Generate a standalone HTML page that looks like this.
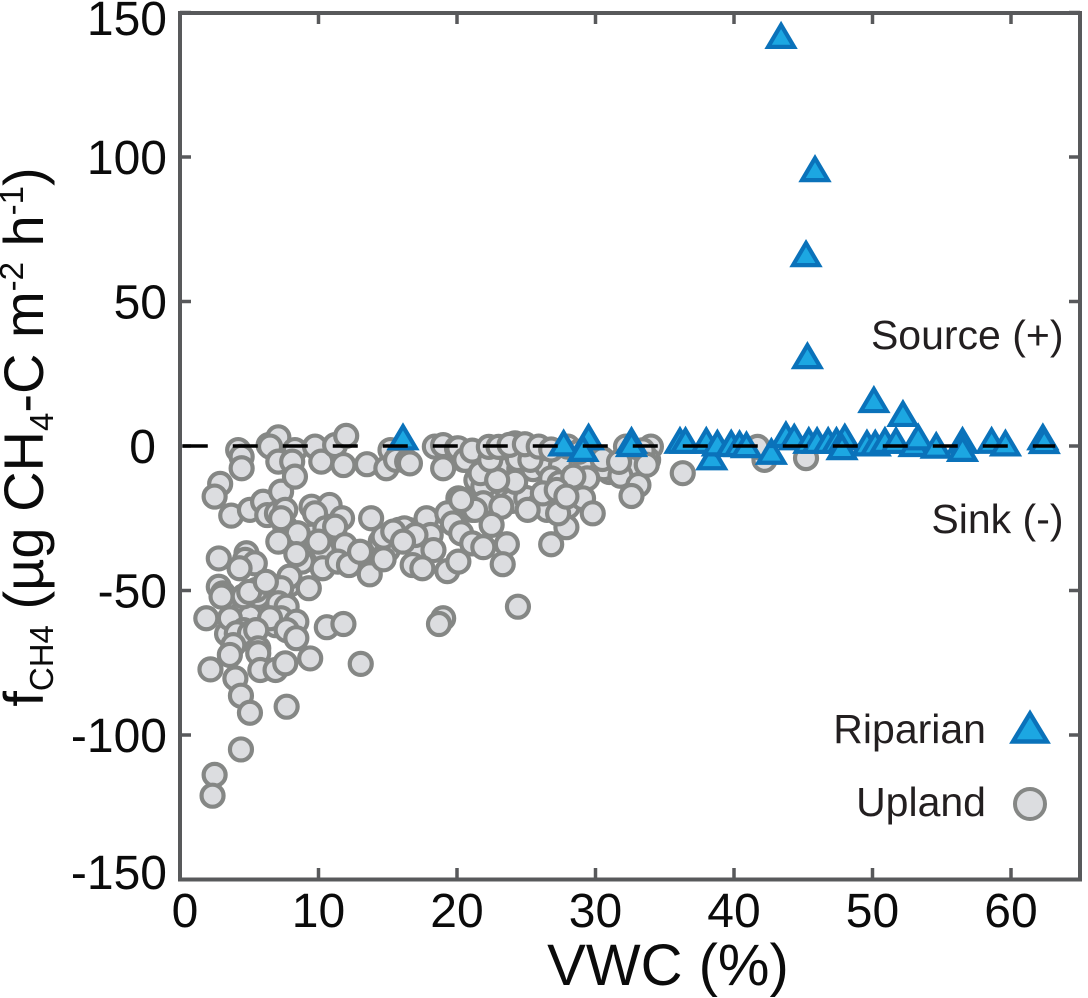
<!DOCTYPE html>
<html lang="en">
<head>
<meta charset="utf-8">
<title>Methane flux vs VWC</title>
<style>
html,body{margin:0;padding:0;background:#fff;width:1088px;height:998px;overflow:hidden}
svg{display:block;font-family:"Liberation Sans",sans-serif}
</style>
</head>
<body>
<svg id="chart" width="1088" height="998" viewBox="0 0 1088 998" xmlns="http://www.w3.org/2000/svg">
  <g id="ticks"></g>
  <g id="upland"></g>
  <g id="riparian"></g>
  <g id="zero"></g>
  <rect x="180" y="13" width="900" height="866.5" fill="none" stroke="#58595b" stroke-width="4"/>
  <g id="labels" fill="#0b0b0b" font-size="48"></g>
  <text x="668" y="985" font-size="58" text-anchor="middle" fill="#0b0b0b">VWC (%)</text>
  <text transform="translate(43,437) rotate(-90)" font-size="56" text-anchor="middle" fill="#0b0b0b">f<tspan font-size="33" dy="10">CH4</tspan><tspan dy="-10"> (µg CH</tspan><tspan font-size="33" dy="10">4</tspan><tspan dy="-10">-C m</tspan><tspan font-size="33" dy="-20">-2</tspan><tspan dy="20"> h</tspan><tspan font-size="33" dy="-20">-1</tspan><tspan dy="20">)</tspan></text>
  <text x="1063.5" y="349" font-size="41" text-anchor="end" fill="#231f20">Source (+)</text>
  <text x="1063.5" y="533" font-size="41" text-anchor="end" fill="#231f20">Sink (-)</text>
  <g>
    <text x="986" y="743" font-size="41" text-anchor="end" fill="#231f20">Riparian</text>
    <polygon points="1030,713.5 1047,741.5 1013,741.5" fill="#1ca7e2" stroke="#0a72ba" stroke-width="4.4"/>
    <text x="986" y="816" font-size="41" text-anchor="end" fill="#231f20">Upland</text>
    <circle cx="1030" cy="804" r="15" fill="#dcdde0" stroke="#858785" stroke-width="4"/>
  </g>
</svg>
<script>
var xTicks = [0, 10, 20, 30, 40, 50, 60];
var yTicks = [-150, -100, -50, 0, 50, 100, 150];
var uplandX = [4.0,4.6,5.4,6.0,6.6,7.2,7.5,8.0,6.9,4.3,4.8,5.2,4.5,5.0,3.4,7.9,8.8,6.5,
14.5,15,16.5,17.2,12.3,13,11,10.3,10.8,9.5,7.6,21.5,22.2,23.5,24,25,26,27,28,28.8,30,31,23.5,24.5,25.5,26.5,27.5,29,
4.2,4.45,4.45,2.9,2.5,3.7,5.05,6.0,7.3,6.4,7.1,6.5,8.3,7.1,8.1,8.3,9.75,10.2,11.2,12.0,11.8,13.5,14.9,15.2,15.6,16.4,16.6,18.4,19.0,19.0,20,20.5,21.1,21.4,
6.3,7.0,7.6,7.3,9.5,10.8,9.75,11.7,13.8,10.5,11.2,8.5,7.1,10,11.9,8.4,2.8,4.8,4.7,5.4,4.3,10.3,11.4,12.2,13,13.7,14.7,15.8,16.2,14.7,15.4,17.8,18.1,17,16.1,18.3,16.8,17.5,19.3,20.1,20.1,20.5,19.3,19.7,20.3,21.1,21.1,
7.9,7.3,9.3,2.8,3.1,3,5.65,5.5,5.05,1.9,3.6,7.1,7.7,7.3,8.4,6.5,10.6,11.8,19,18.7,4.6,4.1,5.05,5.5,7.7,8.4,3.85,5.65,4.6,5,6.2,
3.6,5.65,2.2,4,5.8,6.9,7.6,9.4,13.05,4.4,5.05,7.7,4.4,2.5,2.35,
20.1,20.6,21.1,22.6,24.2,26.1,24.4,28,34,32.2,33.8,32.7,30.6,31.8,33.1,32.6,36.3,29.4,29.1,29.8,27.9,26.8,26.8,27.4,28.4,26.5,27.3,25.1,26.2,27.2,27.9,24.2,21.9,21.9,21.3,20.3,23.2,22.5,21.9,23.6,23.3,24.4,21.7,22.9,25.3,22.4,
22.3,23,23.8,24.9,25.9,26.8,28.8,30.5,31.7,33.4,33.7,42.2,41.7,45.2];
var uplandY = [-55,-57,-57,-55,-53,-52,-58,-62,-62,-67,-66,-66,-62,-60,-65,-48,-40,-50,
-33,-36,-29,-38,-38,-38,-30,-36,-29,-31,-28,-13,-17,-14,-19,-18,-20,-20,-21,-15,-8,-9,-8,-8,-8,-7,-7,-6,
-1.4,-3.7,-7.7,-13.1,-17.5,-24.1,-22.1,-19.3,-15.8,0.3,3.0,-0.2,-1.4,-5.4,-5.4,-10.6,-0.2,-5.4,0.3,3.5,-6.6,-6.3,-7.7,-1.4,-4.8,-5.4,-6,-0.2,0.3,-7.7,-0.8,-4.8,-2,-11.8,
-23.9,-23.3,-22.1,-25,-21,-20.4,-23.3,-25,-25,-28.5,-27.9,-30.2,-33.1,-33.1,-34.3,-37.4,-38.9,-37.1,-39.4,-40.6,-42.3,-42.3,-40,-41.2,-36.6,-44.4,-39.2,-29,-28.5,-31.4,-29.6,-25,-30.8,-30.8,-33.1,-36,-41.2,-42.3,-43.3,-40,-18.1,-19.3,-23.3,-26.8,-30.2,-22.1,-33.7,
-45.2,-49.2,-49.2,-48.7,-51,-52.1,-51.9,-49.8,-59,-59.6,-59.6,-54.4,-55.6,-59.6,-60.8,-59.6,-62.7,-61.6,-59.6,-61.6,-63.7,-64.8,-64.8,-63.7,-63.7,-66.5,-68.9,-70,-52,-50.5,-47,
-72.3,-71.7,-77.3,-80.4,-77.5,-77.5,-75.2,-73.5,-75.4,-86.4,-92.3,-90.2,-105,-113.8,-121,
-0.8,-4.8,-1.6,-0.8,0.9,-0.8,-4.5,-0.2,-0.2,-0.2,-4.8,-7.7,-7.7,-10.3,-13.5,-17.3,-9.4,-11.2,-18.1,-23.3,-28.1,-34,-11.2,-12.9,-10.6,-22.1,-23.3,-22.1,-16.4,-15.2,-17.5,-12.4,-14.1,-19.8,-22.1,-18.7,-21,-27.3,-35,-34,-40.9,-55.6,-9.4,-11.8,-4.8,-4.8,
-0.3,-0.3,0.4,0.6,-0.2,-1.2,-2,-4.5,-5.5,-1.5,-6.5,-4.8,-0.3,-4.2];
var riparianX = [16.1,27.7,29.5,29.1,32.6,32.6,36.1,36.5,38,38.4,38.8,39.8,39.8,40.4,40.9,42.7,43.75,44.35,45.4,46,46.8,47.4,48,47.8,49.6,50.2,50.9,51.7,53,53.3,54.6,56.5,56.5,58.6,59.6,62.3,62.4,43.4,45.85,45.2,45.3,50.1,52.2];
var riparianY = [3,0.9,3,-1,1.8,0.7,1.8,1.8,1.8,-3.9,0.9,0.9,0.7,0.7,0.3,-2,3.8,3,1.8,1.8,1.8,1.8,3,-0.4,0.9,0.9,1.8,1.8,0.7,3,0.1,1.8,-1,1.8,0.9,3,1.7,141.9,95.8,66.4,31.1,15.9,11.1];

var NS = 'http://www.w3.org/2000/svg';
function xScale(v) { return 180 + v * 13.85; }
function yScale(v) { return 446 - v * 2.89; }
function make(tag, attrs, parent) {
  var el = document.createElementNS(NS, tag);
  for (var k in attrs) el.setAttribute(k, attrs[k]);
  parent.appendChild(el);
  return el;
}
var tickG = document.getElementById('ticks');
var labelG = document.getElementById('labels');
xTicks.forEach(function (v) {
  var px = xScale(v);
  var t1 = make('line', {x1: px, x2: px, y1: 879, y2: 868, stroke: '#58595b', 'stroke-width': 3.5}, tickG);
  
  
  var t2 = make('line', {x1: px, x2: px, y1: 13, y2: 24, stroke: '#58595b', 'stroke-width': 3.5}, tickG);
  
  
  var lab = make('text', {x: v === 0 ? px + 5 : px, y: 927, 'text-anchor': 'middle'}, labelG);
  lab.textContent = String(v);
  
  
});
yTicks.forEach(function (v) {
  var py = yScale(v);
  var t1 = make('line', {x1: 180, x2: 191, y1: py, y2: py, stroke: '#58595b', 'stroke-width': 3.5}, tickG);
  
  
  var t2 = make('line', {x1: 1080, x2: 1069, y1: py, y2: py, stroke: '#58595b', 'stroke-width': 3.5}, tickG);
  
  
  var by = py + 17;
  if (v === 150) by = 35;
  if (v === -150) by = 889;
  var lab = make('text', {x: v === 0 ? 156 : 167, y: by, 'text-anchor': 'end'}, labelG);
  lab.textContent = String(v);
  
  
});
var upG = document.getElementById('upland');
uplandX.forEach(function (v, i) {
  var c = make('circle', {cx: xScale(v), cy: yScale(uplandY[i]), r: 11, fill: '#dcdde0', stroke: '#858785', 'stroke-width': 4.2}, upG);
  
  
});
var ripG = document.getElementById('riparian');
riparianX.forEach(function (v, i) {
  var px = xScale(v), py = yScale(riparianY[i]);
  var pts = px + ',' + (py - 11) + ' ' + (px + 13) + ',' + (py + 11) + ' ' + (px - 13) + ',' + (py + 11);
  var t = make('polygon', {points: pts, fill: '#1ca7e2', stroke: '#0a72ba', 'stroke-width': 4.2}, ripG);
  
  
});
var zeroLine = make('line', {x1: xScale(0.2), x2: xScale(63.2), y1: yScale(0), y2: yScale(0), stroke: '#000', 'stroke-width': 3.6, 'stroke-dasharray': '25 25'}, document.getElementById('zero'));


</script>
</body>
</html>
